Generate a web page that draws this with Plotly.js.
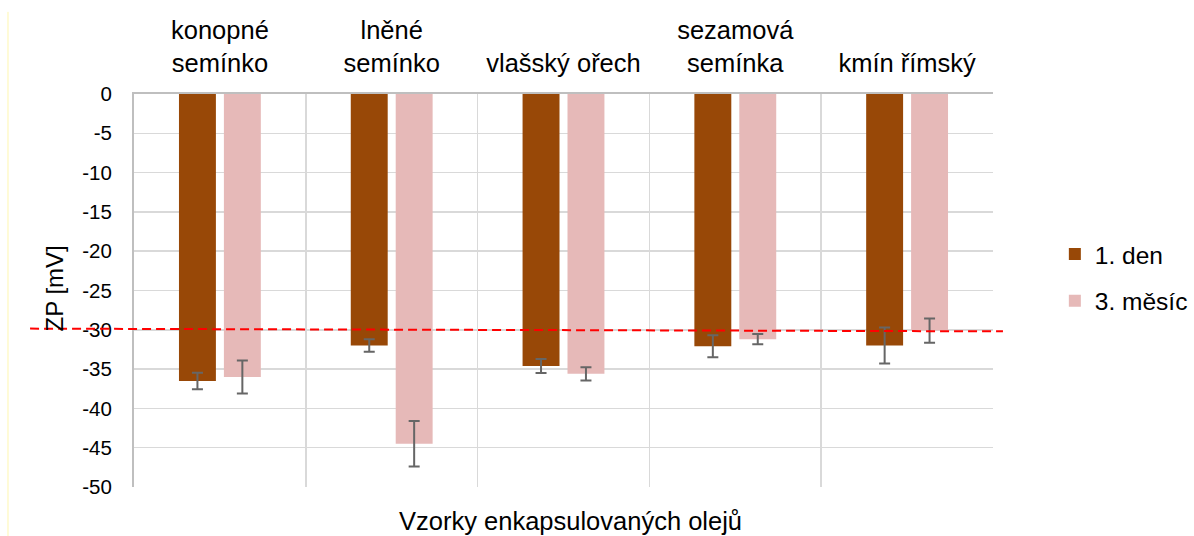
<!DOCTYPE html>
<html>
<head>
<meta charset="utf-8">
<script src="https://cdn.plot.ly/plotly-3.0.1.min.js"></script>
<style>html,body{margin:0;padding:0;background:#fff;}#chart{width:1194px;height:536px;}</style>
</head>
<body>
<div id="chart"></div>
<script>
const categories = ["konopné semínko", "lněné semínko", "vlašský ořech", "sezamová semínka", "kmín římský"];
const tickLabels = ["konopné<br>semínko", "lněné<br>semínko", "vlašský ořech", "sezamová<br>semínka", "kmín římský"];
const seriesNames = ["1. den", "3. měsíc"];
const den1 = [-36.5, -32.0, -34.6, -32.1, -32.0];
const den1Err = [1.05, 0.8, 0.9, 1.4, 2.3];
const mesic3 = [-36.0, -44.5, -35.6, -31.2, -30.1];
const mesic3Err = [2.1, 2.9, 0.85, 0.65, 1.55];
const yTickVals = [0, -5, -10, -15, -20, -25, -30, -35, -40, -45, -50];
const yTickText = ["0", "-5", "-10", "-15", "-20", "-25", "-30", "-35", "-40", "-45", "-50"];
const refLine = [-29.85, -30.2];

const font = "Liberation Sans, Arial, sans-serif";

const traces = [
  {
    type: "bar", name: seriesNames[0], x: categories, y: den1,
    marker: {color: "#984807"}, legendgroup: "a",
    error_y: {type: "data", array: den1Err, visible: true, color: "#666666", thickness: 2, width: 5.5}
  },
  {
    type: "bar", name: seriesNames[1], x: categories, y: mesic3,
    marker: {color: "#E6B9B8"}, legendgroup: "b",
    error_y: {type: "data", array: mesic3Err, visible: true, color: "#666666", thickness: 2, width: 5.5}
  }
];

const layout = {
  width: 1194, height: 536,
  margin: {l: 134, r: 201, t: 94, b: 49, autoexpand: false},
  paper_bgcolor: "#ffffff", plot_bgcolor: "#ffffff",
  font: {family: font, color: "#000000"},
  barmode: "group", bargap: 0.477, bargroupgap: 0.178,
  showlegend: true,
  legend: {x: 1.072, xanchor: "left", y: 0.533, yanchor: "middle",
           font: {family: font, size: 24.5, color: "#000"}, traceorder: "grouped", tracegroupgap: 12,
           bgcolor: "rgba(0,0,0,0)"},
  xaxis: {
    type: "category", side: "top", range: [-0.5, 4.5], automargin: false,
    tickmode: "array", tickvals: categories, ticktext: tickLabels,
    tickson: "boundaries", ticks: "", showgrid: true, gridcolor: "#d9d9d9", gridwidth: 1.5,
    showline: true, linecolor: "#bfbfbf", linewidth: 2,
    tickfont: {family: font, size: 25.5, color: "#000"}, ticklabelstandoff: 10, fixedrange: true
  },
  yaxis: {
    range: [-50, 0], tickmode: "array", tickvals: yTickVals, ticktext: yTickText, automargin: false,
    showgrid: true, gridcolor: "#d9d9d9", gridwidth: 1.5,
    zeroline: false, showline: true, linecolor: "#bfbfbf", linewidth: 2, mirror: false,
    ticks: "", tickfont: {family: font, size: 20.5, color: "#000"}, ticklabelstandoff: 16, fixedrange: true
  },
  shapes: [
    {type: "line", xref: "paper", yref: "y", x0: -0.121, x1: 1.0116, y0: refLine[0], y1: refLine[1],
     line: {color: "#ff0000", width: 2, dash: "9px,5px"}},
    {type: "line", xref: "paper", yref: "paper", x0: -0.1467, x1: -0.1467, y0: 1.209, y1: -0.13,
     line: {color: "#fff7b0", width: 1}}
  ],
  annotations: [
    {text: "Vzorky enkapsulovaných olejů", xref: "paper", yref: "paper", x: 0.5076, y: -0.0865,
     xanchor: "center", yanchor: "middle", showarrow: false, font: {family: font, size: 25.5, color: "#000"}},
    {text: "ZP [mV]", xref: "paper", yref: "paper", x: -0.0925, y: 0.504, textangle: -90,
     xanchor: "center", yanchor: "middle", showarrow: false, font: {family: font, size: 24, color: "#000"}}
  ]
};

Plotly.newPlot("chart", traces, layout, {staticPlot: true, displayModeBar: false});
</script>
</body>
</html>
